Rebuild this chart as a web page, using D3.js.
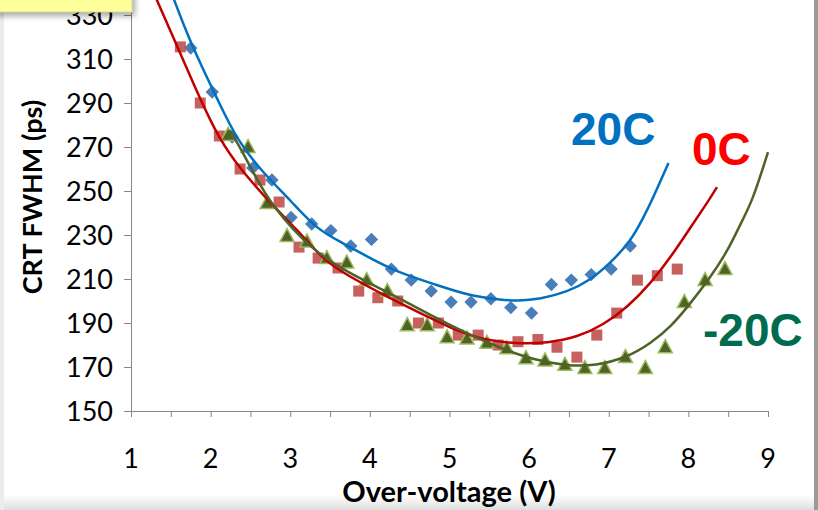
<!DOCTYPE html>
<html>
<head>
<meta charset="utf-8">
<script src="https://cdn.jsdelivr.net/npm/d3@7"></script>
<style>
  html, body { margin: 0; padding: 0; background: #fff; }
  svg { display: block; }
</style>
</head>
<body>
<div id="chart"></div>
<script>
// measured points, over-voltage (V) vs CRT FWHM (ps)
const x20 = [1.75, 2.02, 2.27, 2.53, 2.77, 3.01, 3.27, 3.51, 3.76, 4.02, 4.27, 4.52, 4.77, 5.02, 5.27, 5.52, 5.77, 6.03, 6.28, 6.53, 6.78, 7.03, 7.27]
const y20 = [315, 295, 274.5, 260.5, 255, 238, 235, 232, 225, 228, 214.5, 209.5, 204.5, 199.5, 199.5, 201, 197, 194.5, 207.5, 209.5, 212, 214.5, 225]

const x0 = [1.62, 1.87, 2.11, 2.37, 2.62, 2.86, 3.11, 3.35, 3.6, 3.86, 4.1, 4.35, 4.61, 4.86, 5.11, 5.36, 5.61, 5.86, 6.11, 6.35, 6.6, 6.85, 7.1, 7.36, 7.61, 7.86]
const y0 = [315.5, 290, 275, 260, 255, 245, 224.5, 219.5, 215, 204.5, 201.5, 200, 190, 190, 184.5, 184.5, 180, 181.5, 182.5, 179, 174.5, 184.5, 194.5, 209.5, 211.5, 214.5]

const xm20 = [2.22, 2.47, 2.71, 2.96, 3.21, 3.46, 3.71, 3.96, 4.22, 4.47, 4.72, 4.97, 5.22, 5.47, 5.72, 5.96, 6.2, 6.45, 6.7, 6.95, 7.21, 7.46, 7.71, 7.95, 8.21, 8.46]
const ym20 = [275.5, 270, 244.5, 229.5, 227, 219.5, 217.5, 209.5, 204.5, 189, 189, 183.5, 183, 181, 178.5, 174, 173, 171, 169.5, 169.5, 174.5, 169.5, 179, 199.5, 209.5, 214.5]

// trend lines
const fit20X = [1.53, 1.7, 1.89, 2.09, 2.33, 2.66, 3.0, 3.34, 3.66, 4.0, 4.34, 4.84, 5.22, 5.64, 5.85, 6.14, 6.48, 6.77, 7.02, 7.27, 7.44, 7.55, 7.75]
const fit20Y = [338, 321.8, 306.4, 291.4, 273.2, 258.2, 245.9, 232.3, 226.4, 219.5, 213.2, 207.3, 202.7, 200.5, 200, 200.9, 204.1, 209.5, 217.3, 226.8, 238.2, 246.4, 262.7]

const fit0X = [1.31, 1.53, 1.8, 2.05, 2.28, 2.71, 3.09, 3.42, 3.71, 4.22, 4.76, 5.01, 5.42, 5.85, 6.23, 6.61, 6.93, 7.24, 7.53, 7.78, 8.03, 8.26, 8.36]
const fit0Y = [338, 320, 297.3, 277.7, 264.1, 245.9, 232.3, 218.6, 211.8, 201.8, 192.3, 187.7, 182.3, 180.5, 180.9, 183.6, 189.1, 197.3, 208.2, 220, 233.6, 245.9, 251.8]

const fitm20X = [2.24, 2.41, 2.68, 3.0, 3.34, 3.71, 4.22, 4.76, 5.23, 5.64, 6.06, 6.48, 6.83, 7.24, 7.53, 7.78, 8.03, 8.28, 8.5, 8.66, 8.81, 9.0]
const fitm20Y = [277.7, 267.3, 248.2, 233.6, 221.8, 213.2, 204.1, 193.6, 185, 178.6, 173.2, 170.5, 170.5, 174.5, 180.9, 188.2, 199.1, 210.9, 223.2, 235.5, 245.9, 267.7]

const xTicks = [1, 2, 3, 4, 5, 6, 7, 8, 9]
const yTicks = [150, 170, 190, 210, 230, 250, 270, 290, 310, 330]

const W = 818, H = 510
const svg = d3.select('#chart').append('svg').attr('width', W).attr('height', H)

// page frame bits
const defs = svg.append('defs')
const grad = defs.append('linearGradient').attr('id', 'bottomShade').attr('x1', 0).attr('y1', 0).attr('x2', 0).attr('y2', 1)
grad.append('stop').attr('offset', '0%').attr('stop-color', '#fff')
grad.append('stop').attr('offset', '100%').attr('stop-color', '#dedede')
const blur = defs.append('filter').attr('id', 'shadow').attr('x', '-20%').attr('y', '-50%').attr('width', '140%').attr('height', '300%')
blur.append('feGaussianBlur').attr('stdDeviation', 3)

svg.append('rect').attr('x', 0).attr('y', 495).attr('width', W).attr('height', 15).attr('fill', 'url(#bottomShade)')
svg.append('rect').attr('x', 0).attr('y', 0).attr('width', 4).attr('height', H).attr('fill', '#ececec')
svg.append('rect').attr('x', 814).attr('y', 0).attr('width', 4).attr('height', H).attr('fill', '#9a9a9a')

const x = d3.scaleLinear().domain([1, 9]).range([131, 768])
const y = d3.scaleLinear().domain([150, 330]).range([411, 15])

// axes
const gx = svg.append('g').attr('transform', 'translate(0,411)')
  .call(d3.axisBottom(x).tickValues(d3.range(1, 9.01, 0.5)).tickSize(6).tickFormat(''))
gx.select('.domain').remove()
gx.selectAll('.tick line').attr('stroke', '#868686')
svg.append('line').attr('x1', 124).attr('x2', 768).attr('y1', 411.5).attr('y2', 411.5).attr('stroke', '#868686')

const gy = svg.append('g').attr('transform', 'translate(131,0)')
  .call(d3.axisLeft(y).tickValues(yTicks).tickSize(7).tickFormat(''))
gy.select('.domain').remove()
gy.selectAll('.tick line').attr('stroke', '#868686')
svg.append('line').attr('x1', 131.5).attr('x2', 131.5).attr('y1', 0).attr('y2', 411).attr('stroke', '#868686')

const labelFont = 'Lato, "Open Sans", sans-serif'
svg.append('g').selectAll('text').data(xTicks).enter().append('text')
  .attr('x', d => x(d)).attr('y', 468)
  .attr('text-anchor', 'middle')
  .attr('font-family', labelFont).attr('font-size', 27).attr('fill', '#000')
  .text(d => d)
svg.append('g').selectAll('text').data(yTicks).enter().append('text')
  .attr('x', 113).attr('y', d => y(d) + 10)
  .attr('text-anchor', 'end')
  .attr('font-family', labelFont).attr('font-size', 27).attr('fill', '#000')
  .text(d => d)

svg.append('text').attr('x', 449).attr('y', 502).attr('text-anchor', 'middle')
  .attr('font-family', labelFont).attr('font-weight', 'bold').attr('font-size', 29)
  .text('Over-voltage (V)')
svg.append('text').attr('transform', 'translate(42,197) rotate(-90)').attr('text-anchor', 'middle')
  .attr('font-family', labelFont).attr('font-weight', 'bold').attr('font-size', 27)
  .text('CRT FWHM (ps)')

// markers
const zip = (xs, ys) => xs.map((v, i) => [v, ys[i]])

svg.append('g').selectAll('path').data(zip(x20, y20)).enter().append('path')
  .attr('d', d3.symbol(d3.symbolSquare, 90))
  .attr('transform', d => `translate(${x(d[0])},${y(d[1])}) rotate(45)`)
  .attr('fill', '#4A7EBB')

svg.append('g').selectAll('rect').data(zip(x0, y0)).enter().append('rect')
  .attr('x', d => x(d[0]) - 5.5).attr('y', d => y(d[1]) - 5.5)
  .attr('width', 11).attr('height', 11)
  .attr('fill', '#C0504D').attr('fill-opacity', 0.9)

svg.append('g').selectAll('path').data(zip(xm20, ym20)).enter().append('path')
  .attr('d', 'M0,-7.5L7,5.5L-7,5.5Z')
  .attr('transform', d => `translate(${x(d[0])},${y(d[1])})`)
  .attr('fill', '#4F6228').attr('stroke', '#9BBB59').attr('stroke-width', 1.5)

// trend lines
const line = d3.line().x(d => x(d[0])).y(d => y(d[1])).curve(d3.curveBasis)
const fits = [
  { pts: zip(fit20X, fit20Y), color: '#0070C0' },
  { pts: zip(fit0X, fit0Y), color: '#C00000' },
  { pts: zip(fitm20X, fitm20Y), color: '#4F6228' }
]
svg.append('g').selectAll('path').data(fits).enter().append('path')
  .attr('d', d => line(d.pts))
  .attr('fill', 'none').attr('stroke', d => d.color).attr('stroke-width', 2.5)

// series labels
const tags = [
  { text: '20C', x: 571, y: 145, color: '#0070C0' },
  { text: '0C', x: 692, y: 165, color: '#FF0000' },
  { text: '-20C', x: 703, y: 346, color: '#006B4F' }
]
svg.append('g').selectAll('text').data(tags).enter().append('text')
  .attr('x', d => d.x).attr('y', d => d.y)
  .attr('font-family', '"Liberation Sans", Arial, sans-serif').attr('font-weight', 'bold')
  .attr('font-size', 46).attr('fill', d => d.color)
  .text(d => d.text)

// clipped note box in the corner
svg.append('rect').attr('x', -10).attr('y', -10).attr('width', 145).attr('height', 26)
  .attr('fill', '#000').attr('opacity', 0.35).attr('filter', 'url(#shadow)')
svg.append('rect').attr('x', -2).attr('y', -10).attr('width', 134).attr('height', 22)
  .attr('fill', '#FFFF99').attr('stroke', '#d8d8a0')
</script>
</body>
</html>
